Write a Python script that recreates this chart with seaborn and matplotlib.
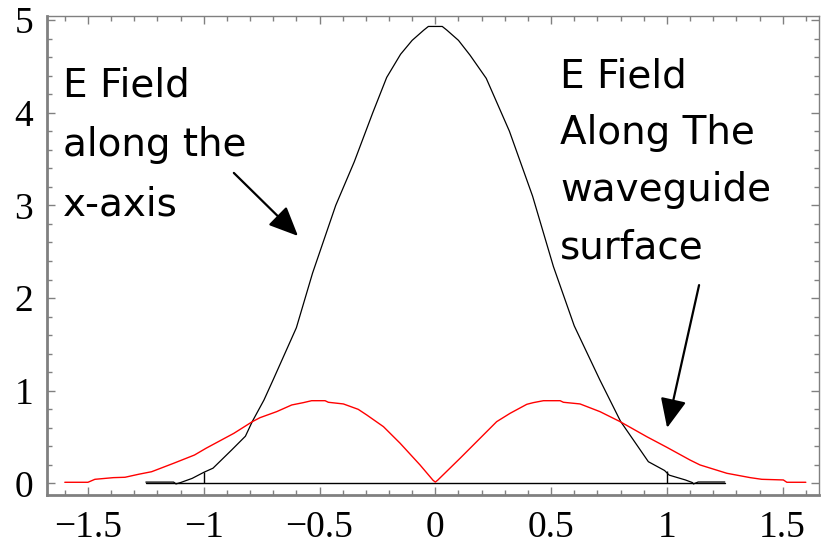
import numpy as np
import pandas as pd
import matplotlib
matplotlib.use('Agg')
import matplotlib.pyplot as plt
from matplotlib.ticker import MultipleLocator
import seaborn as sns

# E field along the x-axis (black)
axis_x = [-1.25, -1.13, -1.12, -1.10, -1.05, -1.00, -0.96, -0.88, -0.82, -0.79,
          -0.74, -0.70, -0.60, -0.53, -0.43, -0.35, -0.27, -0.21, -0.15, -0.10,
          -0.05, -0.03, 0.03, 0.05, 0.10, 0.15, 0.22, 0.32, 0.42, 0.51,
          0.60, 0.71, 0.80, 0.92, 0.99, 1.01, 1.08, 1.11, 1.115, 1.135, 1.25]
axis_field = [0.015, 0.015, -0.005, 0.01, 0.055, 0.12, 0.165, 0.36, 0.51, 0.67,
              0.90, 1.12, 1.68, 2.27, 3.00, 3.47, 4.00, 4.38, 4.63, 4.78,
              4.89, 4.93, 4.93, 4.89, 4.78, 4.62, 4.37, 3.80, 3.10, 2.34,
              1.70, 1.12, 0.67, 0.235, 0.14, 0.09, 0.038, 0.01, -0.005, 0.016, 0.016]

# E field along the waveguide surface (red)
surface_x = [-1.60, -1.50, -1.47, -1.39, -1.34, -1.28, -1.225, -1.13, -1.04, -0.99,
             -0.87, -0.79, -0.757, -0.685, -0.62, -0.57, -0.534, -0.476, -0.462, -0.397,
             -0.333, -0.296, -0.224, -0.152, -0.066, -0.01, 0.0, 0.01, 0.107, 0.265,
             0.323, 0.395, 0.423, 0.467, 0.539, 0.553, 0.625, 0.711, 0.798, 0.913,
             1.00, 1.10, 1.143, 1.259, 1.36, 1.41, 1.503, 1.518, 1.60]
surface_field = [0.013, 0.013, 0.045, 0.063, 0.067, 0.10, 0.127, 0.218, 0.307, 0.38,
                 0.541, 0.667, 0.71, 0.775, 0.847, 0.872, 0.893, 0.893, 0.876, 0.858,
                 0.80, 0.739, 0.613, 0.434, 0.20, 0.035, 0.015, 0.035, 0.272, 0.667,
                 0.757, 0.854, 0.872, 0.893, 0.893, 0.876, 0.858, 0.775, 0.667, 0.505,
                 0.39, 0.253, 0.20, 0.11, 0.063, 0.045, 0.038, 0.013, 0.013]

# waveguide outline drawn on the plot
base_x = [-1.25, 1.25]
base_y = [0.0, 0.0]
wall_x = [-1.0, 1.0]
wall_top = [0.12, 0.14]

x_ticks = [-1.5, -1, -0.5, 0, 0.5, 1, 1.5]
x_labels = ['\u22121.5', '\u22121', '\u22120.5', '0', '0.5', '1', '1.5']
y_ticks = [0, 1, 2, 3, 4, 5]

sns.set_style('ticks')
plt.rcParams['font.family'] = ['DejaVu Sans']

fig = plt.figure(figsize=(8.21, 5.49), dpi=100)
ax = fig.add_axes([0.0572, 0.0984, 0.9404, 0.8725])

df_axis = pd.DataFrame({'x': axis_x, 'E': axis_field})
df_surf = pd.DataFrame({'x': surface_x, 'E': surface_field})
df_base = pd.DataFrame({'x': base_x, 'E': base_y})

sns.lineplot(data=df_base, x='x', y='E', ax=ax, color='black', lw=1.0,
             sort=False, estimator=None)
sns.lineplot(data=df_axis, x='x', y='E', ax=ax, color='black', lw=0.9,
             sort=False, estimator=None)
sns.lineplot(data=df_surf, x='x', y='E', ax=ax, color='#ff0000', lw=1.0,
             sort=False, estimator=None)
ax.vlines(wall_x, 0, wall_top, color='black', lw=1.0)

ax.set_xlim(-1.677, 1.657)
ax.set_ylim(-0.124, 5.043)
ax.set_xlabel('')
ax.set_ylabel('')

ax.set_xticks(x_ticks)
ax.set_xticklabels(x_labels)
ax.set_yticks(y_ticks)
ax.xaxis.set_minor_locator(MultipleLocator(0.1))
ax.yaxis.set_minor_locator(MultipleLocator(0.2))

gray = '#808080'
for s in ax.spines.values():
    s.set_color(gray)
    s.set_linewidth(1.0)
ax.spines['left'].set_linewidth(2.0)
ax.spines['bottom'].set_linewidth(2.0)

ax.tick_params(which='both', direction='in', top=True, right=True, color=gray, width=1.0)
ax.tick_params(which='major', length=6)
ax.tick_params(which='minor', length=3.5)
ax.tick_params(axis='x', pad=11)
ax.tick_params(axis='y', pad=10)
for lab in ax.get_xticklabels() + ax.get_yticklabels():
    lab.set_fontfamily('Liberation Serif')
    lab.set_fontsize(27)
    lab.set_color('black')

note_kw = dict(fontsize=28, color='black', va='top', ha='left')
ax.text(-1.608, 4.50, 'E Field\nalong the\nx-axis', linespacing=1.72, **note_kw)
ax.text(0.539, 4.60, 'E Field\nAlong The\nwaveguide\nsurface', linespacing=1.64, **note_kw)

arrow = dict(arrowstyle='-|>,head_length=0.9,head_width=0.4', color='black',
             lw=1.6, mutation_scale=20, shrinkA=0, shrinkB=0)
ax.annotate('', xy=(-0.593, 2.67), xytext=(-0.870, 3.35), arrowprops=arrow)
ax.annotate('', xy=(1.001, 0.60), xytext=(1.139, 2.14), arrowprops=arrow)

fig.savefig('out.png', dpi=100)
